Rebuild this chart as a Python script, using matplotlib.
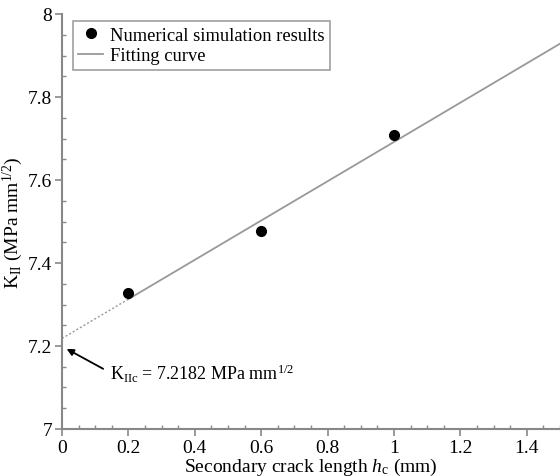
# K_II versus secondary crack length with a linear fit
import matplotlib.pyplot as plt
from matplotlib.ticker import MultipleLocator

plt.rcParams['font.family'] = ['Liberation Serif', 'DejaVu Serif']
plt.rcParams['mathtext.fontset'] = 'custom'
plt.rcParams['mathtext.rm'] = 'Liberation Serif'
plt.rcParams['mathtext.it'] = 'Liberation Serif:italic'

crack_length = [0.2, 0.6, 1.0]
k_ii = [7.328, 7.477, 7.708]

fit_intercept = 7.2182
fit_slope = 0.4735
fit_dotted_x = [0.0, 0.2]
fit_solid_x = [0.2, 1.5]

axis_color = '#888888'

fig = plt.figure(figsize=(5.6, 4.77), dpi=100)
ax = fig.add_axes([62 / 560, 47 / 477, 1 - 62 / 560, 415 / 477])

ax.plot(fit_dotted_x, [fit_intercept + fit_slope * x for x in fit_dotted_x],
        color='#999999', lw=1.0, ls=(0, (1.5, 1.5)))
ax.plot(fit_solid_x, [fit_intercept + fit_slope * x for x in fit_solid_x],
        color='#999999', lw=1.3, label='Fitting curve')
ax.plot(crack_length, k_ii, 'o', color='black', ms=7,
        label='Numerical simulation results')

ax.set_xlim(0, 1.5)
ax.set_ylim(7, 8)
ax.xaxis.set_minor_locator(MultipleLocator(0.05))
ax.yaxis.set_minor_locator(MultipleLocator(0.05))
ax.set_xticks([0, 0.2, 0.4, 0.6, 0.8, 1, 1.2, 1.4])
ax.set_xticklabels(['0', '0.2', '0.4', '0.6', '0.8', '1', '1.2', '1.4'])
ax.set_yticks([7, 7.2, 7.4, 7.6, 7.8, 8])
ax.set_yticklabels(['7', '7.2', '7.4', '7.6', '7.8', '8'])

for side in ['top', 'right']:
    ax.spines[side].set_visible(False)
for side in ['left', 'bottom']:
    ax.spines[side].set_color(axis_color)
    ax.spines[side].set_linewidth(1.5)

ax.tick_params(which='major', direction='out', length=5, width=1.2,
               color=axis_color, labelsize=14, pad=2)
ax.tick_params(which='minor', direction='in', length=3, width=1.0,
               color=axis_color)

ax.set_xlabel('Secondary crack length $\\it{h}$$_{\\rm c}$ (mm)', fontsize=14, labelpad=0)
ax.set_ylabel('K$_{\\rm II}$ (MPa mm$^{1/2}$)', fontsize=14, labelpad=2)

# arrow pointing at the intercept, label drawn separately
ax.annotate('', xy=(0.014, 7.193), xytext=(0.124, 7.145),
            arrowprops=dict(arrowstyle='-|>', color='black', lw=1.3,
                            shrinkA=0, shrinkB=0, mutation_scale=10))
ax.text(0.145, 7.135, 'K$_{\\rm IIc}$ = 7.2182 MPa mm$^{1/2}$',
        fontsize=13, va='center')

handles, labels = ax.get_legend_handles_labels()
leg = ax.legend(handles[::-1], labels[::-1], loc='upper left',
                bbox_to_anchor=(0.022, 0.983), borderaxespad=0, fontsize=13.3,
                frameon=True, fancybox=False, edgecolor=axis_color,
                handlelength=1.3, handletextpad=0.4, borderpad=0.3,
                labelspacing=0.2)
leg.get_frame().set_linewidth(1.2)

fig.savefig('out.png', dpi=100)
